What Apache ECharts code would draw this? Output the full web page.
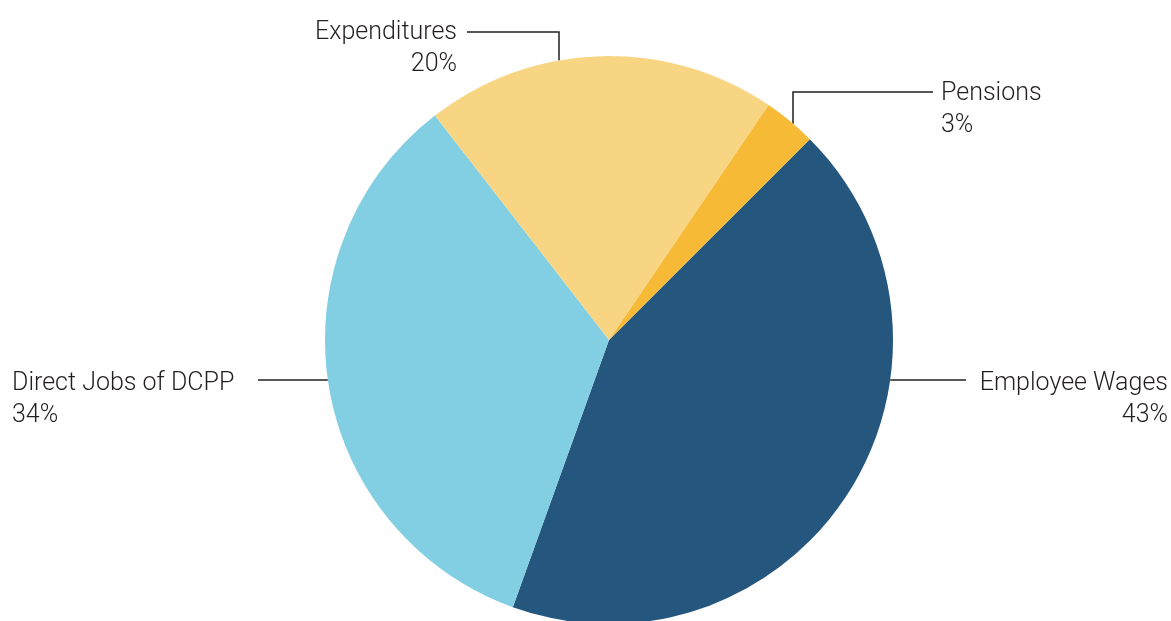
<!DOCTYPE html>
<html>
<head>
<meta charset="utf-8">
<title>DCPP economic impact</title>
<script src="https://cdn.jsdelivr.net/npm/echarts@6/dist/echarts.min.js"></script>
<style>
  html, body { margin: 0; padding: 0; background: #fff; }
  #chart { width: 1171px; height: 621px; }
</style>
</head>
<body>
<div id="chart"></div>
<script>
// data, in clockwise order starting from the Pensions / Wages boundary
const categories = ['Employee Wages', 'Direct Jobs of DCPP', 'Expenditures', 'Pensions'];
const shares = [43, 34, 20, 3];
const sliceColors = ['#25567d', '#82cee2', '#f8d582', '#f6ba37'];

// pie geometry
const cx = 609, cy = 340, r = 284;

// where each label sits and how its leader line runs
const labelSpots = [
  { side: 'right', lineY: 380, lineEnd: 966, textX: 1168, textY: 368, align: 'right' },
  { side: 'left', lineY: 380, lineEnd: 258, textX: 12, textY: 368, align: 'left' },
  { side: 'top', lineX: 559, lineY: 32, lineEnd: 467, textX: 457, textY: 17, align: 'right' },
  { side: 'top', lineX: 793, lineY: 92, lineEnd: 933, textX: 941, textY: 78, align: 'left' }
];

const chart = echarts.init(document.getElementById('chart'));

const option = {
  animation: false,
  series: [
    {
      type: 'pie',
      center: [cx, cy],
      radius: r,
      startAngle: 45,
      clockwise: true,
      data: categories.map((name, i) => ({
        name,
        value: shares[i],
        itemStyle: { color: sliceColors[i] }
      })),
      label: {
        show: true,
        position: 'outside',
        formatter: p => p.name + '\n' + p.value + '%',
        fontFamily: 'Roboto',
        fontSize: 25,
        fontWeight: 300,
        lineHeight: 32,
        color: '#231f20'
      },
      labelLine: {
        show: true,
        lineStyle: { color: '#231f20', width: 1.5 }
      },
      labelLayout: params => {
        const s = labelSpots[params.dataIndex];
        let pts;
        if (s.side === 'right') {
          const x0 = cx + Math.sqrt(r * r - (s.lineY - cy) ** 2);
          pts = [[x0, s.lineY], [(x0 + s.lineEnd) / 2, s.lineY], [s.lineEnd, s.lineY]];
        } else if (s.side === 'left') {
          const x0 = cx - Math.sqrt(r * r - (s.lineY - cy) ** 2);
          pts = [[x0, s.lineY], [(x0 + s.lineEnd) / 2, s.lineY], [s.lineEnd, s.lineY]];
        } else {
          const y0 = cy - Math.sqrt(r * r - (s.lineX - cx) ** 2);
          pts = [[s.lineX, y0], [s.lineX, s.lineY], [s.lineEnd, s.lineY]];
        }
        return {
          x: s.textX,
          y: s.textY,
          align: s.align,
          verticalAlign: 'top',
          labelLinePoints: pts
        };
      }
    }
  ]
};

chart.setOption(option);
window.addEventListener('resize', () => chart.resize());
</script>
</body>
</html>
